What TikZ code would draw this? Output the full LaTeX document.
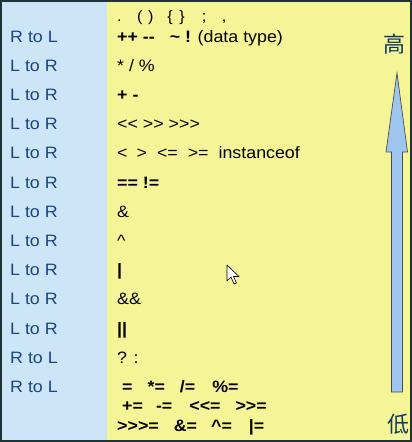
\documentclass[tikz,border=0pt]{standalone}
\usepackage{fontspec}
\setmainfont{Liberation Sans}[FakeStretch=1.08]
\newfontfamily\cjk{Noto Sans CJK SC}
\definecolor{colblue}{HTML}{CCE6F7}
\definecolor{colyellow}{HTML}{F5F598}
\definecolor{framegray}{HTML}{1E3434}
\definecolor{dirtext}{HTML}{1A4580}
\definecolor{cjktext}{HTML}{0F3A5E}
\definecolor{arrowblue}{HTML}{9EC6EF}

\tikzstyle{dir} = [anchor=base west, inner sep=0pt, text=dirtext, font=\fontsize{16.5}{18}\selectfont]
\tikzstyle{op} = [anchor=base west, inner sep=0pt, font=\fontsize{16.5}{18}\selectfont]
\tikzstyle{bop} = [op, font=\fontsize{16.5}{18}\selectfont\bfseries]
\tikzstyle{rank} = [inner sep=0pt, text=cjktext, font=\cjk\fontsize{22}{24}\selectfont]
\def\dirx{10}
\def\opx{117}

\begin{document}
\begin{tikzpicture}[x=1pt,y=-1pt]
                \useasboundingbox (0,0) rectangle (412,442);
                % draw the two columns
                \fill[colblue] (0,0) rectangle (107,442);
                \fill[colyellow] (107,0) rectangle (412,442);
                % direction column
                \node[dir] (d1) at (\dirx,42) {R to L};
                \node[dir] (d2) at (\dirx,71.2) {L to R};
                \node[dir] (d3) at (\dirx,100.4) {L to R};
                \node[dir] (d4) at (\dirx,129.6) {L to R};
                \node[dir] (d5) at (\dirx,158.8) {L to R};
                \node[dir] (d6) at (\dirx,188) {L to R};
                \node[dir] (d7) at (\dirx,217.2) {L to R};
                \node[dir] (d8) at (\dirx,246.4) {L to R};
                \node[dir] (d9) at (\dirx,275.6) {L to R};
                \node[dir] (d10) at (\dirx,304.8) {L to R};
                \node[dir] (d11) at (\dirx,334) {L to R};
                \node[dir] (d12) at (\dirx,363.2) {R to L};
                \node[dir] (d13) at (\dirx,392) {R to L};
                % operator column
                \node[op, font=\fontsize{15}{16}\selectfont] (o0) at (\opx,21)
                    {.\hskip15.5pt(\hskip5.5pt)\hskip14pt\{\hskip6.5pt\}\hskip17pt;\hskip15.5pt,};
                \node[bop] (o1) at (\opx,42)
                    {++ -{}-\hskip15pt\textasciitilde{} ! \mdseries(data type)};
                \node[op] (o2) at (\opx,71.2) {* / \%};
                \node[bop] (o3) at (\opx,100.4) {+ -};
                \node[op] (o4) at (\opx,129.6) {<{}< >{}> >{}>{}>};
                \node[op] (o5) at (\opx,158.8)
                    {<\hskip9pt>\hskip10pt<=\hskip10pt>=\hskip10pt instanceof};
                \node[bop] (o6) at (\opx,188) {== !=};
                \node[op] (o7) at (\opx,217.2) {\&};
                \node[op] (o8) at (\opx,246.4) {\textasciicircum};
                \node[bop] (o9) at (\opx,275.6) {|};
                \node[op] (o10) at (\opx,304.8) {\&\&};
                \node[bop] (o11) at (\opx,334) {||};
                \node[op] (o12) at (\opx,363.2) {? :};
                \node[bop] (o13) at (122,392)
                    {=\hskip15pt*=\hskip15pt/=\hskip17pt\%=};
                \node[bop] (o14) at (122,411.5)
                    {+=\hskip13pt-=\hskip17pt<{}<=\hskip15pt>{}>=};
                \node[bop] (o15) at (\opx,431)
                    {>{}>{}>=\hskip15pt\&=\hskip14pt\textasciicircum=\hskip17pt|=};
                % precedence arrow
                \draw[fill=arrowblue, draw=black!70, line width=0.7pt]
                    (397,73) -- (407.5,152) -- (402.5,152) -- (402.5,392)
                    -- (391.5,392) -- (391.5,152) -- (386,152) -- cycle;
                \node[rank] (high) at (394.5,44) {高};
                \node[rank] (low) at (398.5,424) {低};
                % mouse pointer
                \draw[fill=white, line width=0.6pt, line join=round]
                    (227,265) -- (227,281) -- (231,277) -- (234,284) -- (236.5,283)
                    -- (233.5,276.5) -- (239,276.5) -- cycle;
                % outer frame
                \draw[framegray, line width=2pt] (1,1) rectangle (411,441);
        \end{tikzpicture}
\end{document}
